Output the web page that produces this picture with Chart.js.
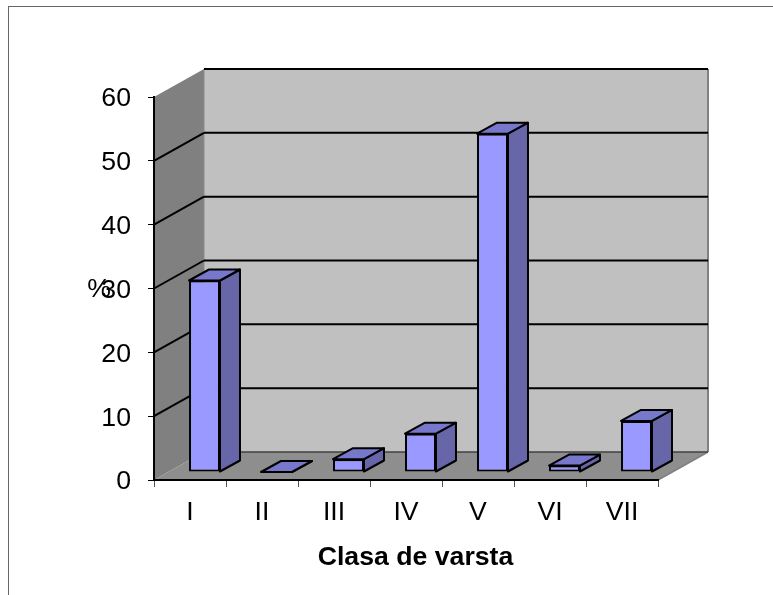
<!DOCTYPE html>
<html>
<head>
<meta charset="utf-8">
<title>Clasa de varsta</title>
<script src="https://cdn.jsdelivr.net/npm/chart.js@4"></script>
<style>
  html, body { margin: 0; padding: 0; background: #fff; overflow: hidden; }
  #frame { position: absolute; left: 8px; top: 6px; width: 773px; height: 600px; box-sizing: border-box;
           border-top: 1px solid #666; border-left: 1px solid #666; }
  #wrap { position: absolute; left: 0; top: 0; width: 773px; height: 595px; }
</style>
</head>
<body>
<div id="frame"></div>
<div id="wrap"><canvas id="chart" width="773" height="595"></canvas></div>
<script>
// ── Data ──────────────────────────────────────────────────────────────────────
const categories = ['I', 'II', 'III', 'IV', 'V', 'VI', 'VII'];
const values     = [30, 0, 2, 6, 53, 1, 8];
const yMax       = 60;
const yStep      = 10;
const xTitle     = 'Clasa de varsta';
const yTitle     = '%';

// ── 3D look ───────────────────────────────────────────────────────────────────
const FONT       = '"Liberation Sans", Arial, sans-serif';
const FONT_SIZE  = 26.67;
const DEPTH_X    = 50;   // wall offset from the front plane
const DEPTH_Y    = -28;
const BAR_DX     = 14.5; // bars stand part way into the floor
const BAR_DY     = -8;
const BAR_SIDE_X = 20;
const BAR_SIDE_Y = -11;

function poly(ctx, pts, fill, stroke, lw) {
  ctx.beginPath();
  pts.forEach((p, i) => i ? ctx.lineTo(p[0], p[1]) : ctx.moveTo(p[0], p[1]));
  ctx.closePath();
  if (fill) { ctx.fillStyle = fill; ctx.fill(); }
  if (stroke) { ctx.strokeStyle = stroke; ctx.lineWidth = lw || 1; ctx.stroke(); }
}

function line(ctx, x1, y1, x2, y2, color, lw) {
  ctx.beginPath();
  ctx.moveTo(x1, y1);
  ctx.lineTo(x2, y2);
  ctx.strokeStyle = color;
  ctx.lineWidth = lw;
  ctx.stroke();
}

const walls3d = {
  id: 'walls3d',
  afterLayout(chart) {
    // y labels sit slightly lower than canvas 'middle'
    chart.scales.y.getLabelItems().forEach(item => { item.options.translation[1] += 2; });
  },
  beforeDraw(chart) {
    const { ctx, chartArea: a, scales: { y } } = chart;
    ctx.save();
    // side wall, back wall, floor
    poly(ctx, [[a.left, a.top], [a.left + DEPTH_X, a.top + DEPTH_Y], [a.left + DEPTH_X, a.bottom + DEPTH_Y], [a.left, a.bottom]], '#808080');
    poly(ctx, [[a.left + DEPTH_X, a.top + DEPTH_Y], [a.right + DEPTH_X, a.top + DEPTH_Y], [a.right + DEPTH_X, a.bottom + DEPTH_Y], [a.left + DEPTH_X, a.bottom + DEPTH_Y]], '#c0c0c0');
    poly(ctx, [[a.left, a.bottom], [a.left + DEPTH_X, a.bottom + DEPTH_Y], [a.right + DEPTH_X, a.bottom + DEPTH_Y], [a.right, a.bottom]], '#8e8e8e');
    // wall edges
    line(ctx, a.left + DEPTH_X, a.top + DEPTH_Y, a.left + DEPTH_X, a.bottom + DEPTH_Y, '#8c8c8c', 1);
    line(ctx, a.right + DEPTH_X, a.top + DEPTH_Y, a.right + DEPTH_X, a.bottom + DEPTH_Y, '#808080', 2);
    line(ctx, a.right, a.bottom, a.right + DEPTH_X, a.bottom + DEPTH_Y, '#808080', 1.5);
    line(ctx, a.left + DEPTH_X, a.bottom + DEPTH_Y, a.right + DEPTH_X, a.bottom + DEPTH_Y, '#404040', 1.5);
    // grid lines follow the walls, the top one only runs along the back
    y.ticks.forEach(t => {
      if (t.value === 0) return;
      const py = y.getPixelForValue(t.value);
      if (t.value !== yMax) line(ctx, a.left, py, a.left + DEPTH_X, py + DEPTH_Y, '#000', 2);
      line(ctx, a.left + DEPTH_X, py + DEPTH_Y, a.right + DEPTH_X, py + DEPTH_Y, '#000', 2);
    });
    ctx.restore();
  },
  beforeDatasetDraw(chart, args) {
    const { ctx } = chart;
    ctx.save();
    ctx.translate(BAR_DX, BAR_DY);
    ctx.lineJoin = 'round';
    chart.getDatasetMeta(args.index).data.forEach(bar => {
      const l = bar.x - bar.width / 2, r = bar.x + bar.width / 2;
      const t = bar.y, b = bar.base;
      poly(ctx, [[r, t], [r + BAR_SIDE_X, t + BAR_SIDE_Y], [r + BAR_SIDE_X, b + BAR_SIDE_Y], [r, b]], '#6666a8', '#000', 2);
      poly(ctx, [[l, t], [l + BAR_SIDE_X, t + BAR_SIDE_Y], [r + BAR_SIDE_X, t + BAR_SIDE_Y], [r, t]], '#7777cc', '#000', 2);
    });
  },
  afterDatasetDraw(chart) {
    chart.ctx.restore();
  },
  afterDraw(chart) {
    const { ctx, chartArea: a, scales: { y } } = chart;
    ctx.save();
    ctx.fillStyle = '#000';
    ctx.textAlign = 'center';
    ctx.textBaseline = 'middle';
    ctx.font = FONT_SIZE + 'px ' + FONT;
    ctx.fillText(yTitle, a.left - 55, y.getPixelForValue(30) + 1);
    // axis title sits right of the axis centre in the original
    ctx.font = 'bold ' + FONT_SIZE + 'px ' + FONT;
    ctx.fillText(xTitle, (a.left + a.right) / 2 + 9.5, a.bottom + 78);
    ctx.restore();
  },
};

// ── Chart ─────────────────────────────────────────────────────────────────────
new Chart(document.getElementById('chart'), {
  type: 'bar',
  data: {
    labels: categories,
    datasets: [{
      data: values,
      backgroundColor: '#9999ff',
      borderColor: '#000',
      borderWidth: 2,
      borderSkipped: false,
      barPercentage: 1,
      categoryPercentage: 0.43,
    }],
  },
  options: {
    responsive: false,
    animation: false,
    layout: { padding: { top: 97, right: 115, left: 0, bottom: 0 } },
    plugins: { legend: { display: false }, tooltip: { enabled: false } },
    scales: {
      x: {
        afterFit: s => { s.height = 115; },
        grid: { drawOnChartArea: false, tickLength: 7, color: '#555', offset: true },
        border: { color: '#000', width: 2 },
        ticks: { color: '#000', padding: 10, maxRotation: 0, font: { family: FONT, size: FONT_SIZE } },
      },
      y: {
        min: 0,
        max: yMax,
        afterFit: s => { s.width = 154; },
        grid: { drawOnChartArea: false, tickLength: 6, color: '#000' },
        border: { color: '#000', width: 2 },
        ticks: { stepSize: yStep, color: '#000', padding: 17, font: { family: FONT, size: FONT_SIZE } },
      },
    },
  },
  plugins: [walls3d],
});
</script>
</body>
</html>
